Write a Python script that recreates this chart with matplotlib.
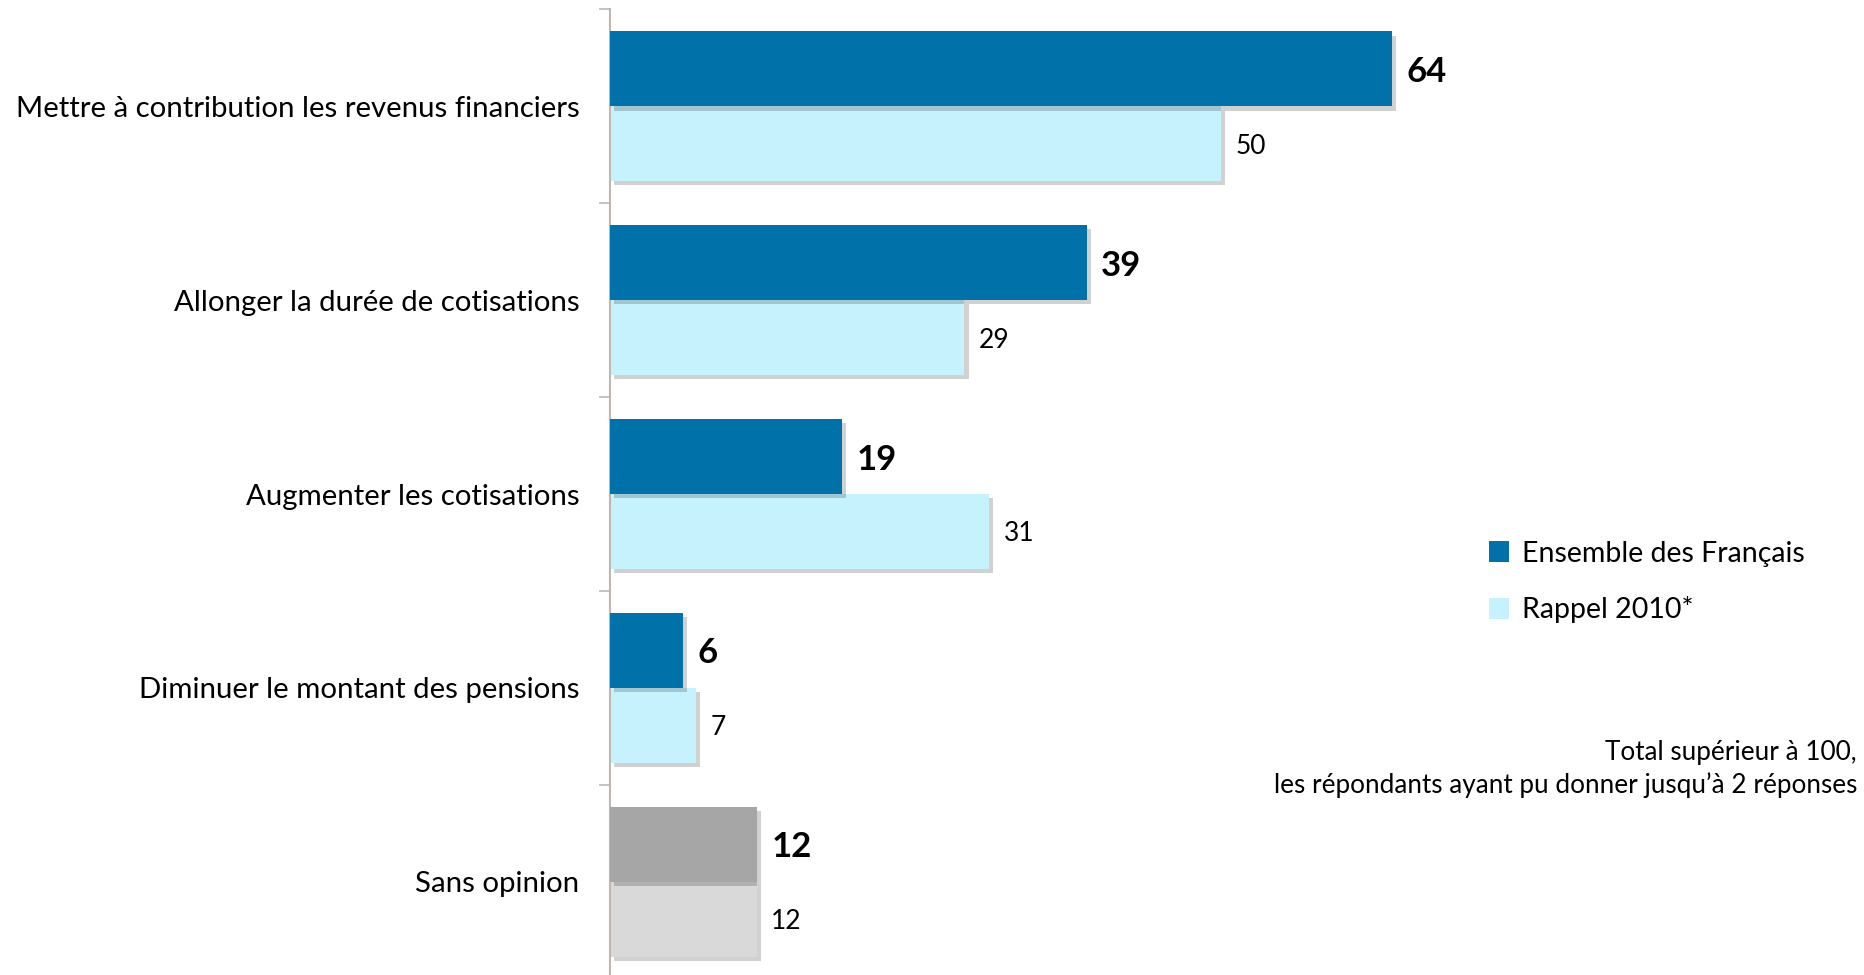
import matplotlib
matplotlib.use("Agg")
import matplotlib.pyplot as plt
import matplotlib.patheffects as pe
import numpy as np

categories = ["Mettre à contribution les revenus financiers",
              "Allonger la durée de cotisations",
              "Augmenter les cotisations",
              "Diminuer le montant des pensions",
              "Sans opinion"]
ensemble = [64, 39, 19, 6, 12]
rappel_2010 = [50, 29, 31, 7, 12]
series_names = ["Ensemble des Français", "Rappel 2010*"]
note = "Total supérieur à 100,\nles répondants ayant pu donner jusqu’à 2 réponses"

dark_colors = ["#0071A9"] * 4 + ["#A6A6A6"]
light_colors = ["#C6F2FD"] * 4 + ["#D9D9D9"]

plt.rcParams['font.family'] = ['Lato', 'DejaVu Sans']

fig = plt.figure(figsize=(18.64, 9.75), dpi=100)
ax = fig.add_axes([610/1864, -3.5/975, 1222/1864, (975-9.5+3.5)/975])

n = len(categories)
y = np.arange(n)
h = 63/163
shadow = [pe.SimplePatchShadow(offset=(3, -3), shadow_rgbFace='#000000', alpha=0.18), pe.Normal()]

b1 = ax.barh(y - h/2, ensemble, height=h, color=dark_colors, zorder=3)
b2 = ax.barh(y + h/2, rappel_2010, height=h, color=light_colors, zorder=2)
for bars in (b1, b2):
    for p in bars:
        p.set_path_effects(shadow)

for yi, v in zip(y, ensemble):
    ax.text(v + 1.2, yi - h/2, f"{v}", va='center_baseline', ha='left', fontsize=25, fontweight='bold', color='black')
for yi, v in zip(y, rappel_2010):
    ax.text(v + 1.2, yi + h/2, f"{v}", va='center_baseline', ha='left', fontsize=19, color='black')

ax.set_xlim(0, 100)
ax.set_ylim(n - 0.5, -0.5)
ax.set_yticks(np.arange(-0.5, n, 1.0))
ax.set_yticklabels([])
ax.set_yticks(y, minor=True)
ax.set_yticklabels(categories, minor=True, fontsize=21.2)
ax.tick_params(axis='y', which='major', length=8, width=1.2, color='#C0B8B0', direction='out')
ax.tick_params(axis='y', which='minor', length=0, pad=22)
ax.set_xticks([])
for s in ['top', 'right', 'bottom']:
    ax.spines[s].set_visible(False)
ax.spines['left'].set_color('#C0B8B0')
ax.spines['left'].set_linewidth(1.5)

# legend
from matplotlib.patches import Patch
handles = [Patch(facecolor="#0071A9"), Patch(facecolor="#C6F2FD")]
fig.legend(handles, series_names, loc='center left', bbox_to_anchor=(1463/1864, 1 - 582/975),
           frameon=False, fontsize=20.5, handlelength=0.72, handleheight=0.72,
           handletextpad=0.45, labelspacing=1.05)

fig.text(1857/1864, 1 - 769/975, note, ha='right', va='center', fontsize=18.8, linespacing=1.3)

fig.savefig("out.png", dpi=100)
